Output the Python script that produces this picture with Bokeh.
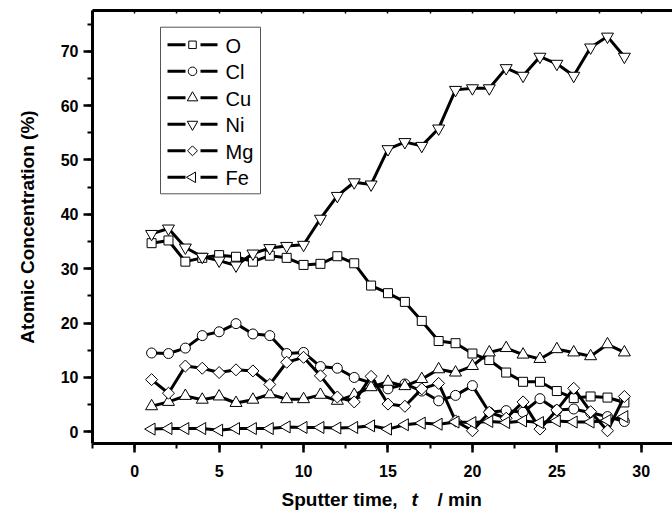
import numpy as np
from bokeh.plotting import figure
from bokeh.layouts import column
from bokeh.models import Range1d, LinearAxis, SingleIntervalTicker, FixedTicker, ColumnDataSource
from bokeh.core.properties import value
from bokeh.embed import file_html
from bokeh.resources import INLINE

t = list(range(1, 30))
O = [34.7, 35.2, 31.3, 32.0, 32.5, 32.2, 31.3, 32.4, 32.0, 30.7, 30.9, 32.3, 31.0, 26.9, 25.5,
     23.9, 20.4, 16.7, 16.3, 14.4, 13.2, 10.9, 9.2, 9.2, 7.5, 6.2, 6.5, 6.3, 5.4]
Cl = [14.5, 14.4, 15.4, 17.7, 18.4, 19.9, 18.0, 17.7, 14.4, 14.6, 12.0, 11.7, 10.0, 9.0, 7.9,
      8.8, 7.5, 5.7, 6.7, 8.5, 3.6, 3.9, 3.6, 6.1, 4.0, 4.2, 3.5, 2.8, 1.9]
Cu = [4.7, 5.5, 6.6, 5.9, 6.5, 5.3, 5.9, 6.9, 6.0, 6.0, 6.8, 5.7, 6.8, 8.2, 9.2,
      8.4, 9.7, 11.5, 10.9, 12.1, 14.6, 15.4, 14.2, 13.4, 15.2, 14.6, 13.9, 16.1, 14.6]
Ni = [36.4, 37.4, 33.9, 32.2, 31.5, 30.6, 32.8, 33.8, 34.2, 34.4, 39.2, 43.4, 45.9, 45.5, 52.0,
      53.3, 52.6, 55.8, 62.9, 63.2, 63.2, 66.9, 65.5, 69.0, 67.7, 65.5, 70.7, 72.7, 69.0]
Mg = [9.6, 7.1, 12.1, 11.7, 10.9, 11.4, 11.2, 8.7, 12.8, 13.7, 10.3, 6.4, 5.5, 10.2, 5.1,
      4.7, 7.9, 8.9, 2.0, 0.2, 3.6, 2.5, 5.5, 0.5, 4.0, 8.0, 3.7, 0.2, 6.5]
Fe = [0.5, 0.6, 0.6, 0.6, 0.3, 0.6, 0.6, 0.6, 0.9, 0.8, 0.8, 0.7, 0.8, 1.1, 0.5,
      1.3, 1.6, 1.4, 1.8, 1.7, 1.9, 1.7, 2.0, 1.7, 2.0, 1.8, 1.8, 2.1, 2.8]

series_names = ["O", "Cl", "Cu", "Ni", "Mg", "Fe"]
series_values = [O, Cl, Cu, Ni, Mg, Fe]
markers = ["square", "circle", "triangle", "inverted_triangle", "square", "triangle"]
sizes = [9, 10, 12, 12, 8.5, 12]
angles = [0, 0, 0, 0, np.pi / 4, np.pi / 2]

FONT = "Liberation Sans"
W, H_MAIN, H_TITLE = 672, 490, 33
LEFT, TOP, BOTTOM = 92, 10, 47
FRAME_W, FRAME_H = W - LEFT, H_MAIN - TOP - BOTTOM

p = figure(width=W, height=H_MAIN, output_backend="svg", toolbar_location=None,
           x_range=Range1d(-2.5, 31.85), y_range=Range1d(-2.15, 77.5),
           x_axis_type=None, y_axis_type=None,
           min_border_left=LEFT, min_border_right=0, min_border_top=TOP, min_border_bottom=BOTTOM)
p.outline_line_color = None
p.background_fill_color = "white"
p.border_fill_color = "white"
# pixel-like helper ranges for the legend box (layout only)
p.extra_x_ranges = {"px": Range1d(0, FRAME_W)}
p.extra_y_ranges = {"px": Range1d(FRAME_H, 0)}


def style_axis(ax):
    ax.axis_line_width = 3
    ax.axis_line_color = "black"
    ax.major_tick_line_width = 2.5
    ax.minor_tick_line_width = 2
    ax.major_tick_line_color = "black"
    ax.minor_tick_line_color = "black"
    ax.major_tick_in = 0
    ax.minor_tick_in = 0
    ax.major_tick_out = 9
    ax.minor_tick_out = 5
    ax.major_label_text_font = FONT
    ax.major_label_text_font_style = "bold"
    ax.major_label_text_font_size = "16px"
    ax.major_label_text_color = "black"


xaxis = LinearAxis(ticker=SingleIntervalTicker(interval=5, num_minor_ticks=2))
style_axis(xaxis)
xaxis.major_label_standoff = 12
p.add_layout(xaxis, "below")

yaxis = LinearAxis(ticker=SingleIntervalTicker(interval=10, num_minor_ticks=2),
                   axis_label="Atomic Concentration (%)")
style_axis(yaxis)
yaxis.major_label_standoff = 5
yaxis.axis_label_text_font = FONT
yaxis.axis_label_text_font_style = "bold"
yaxis.axis_label_text_font_size = "19px"
yaxis.axis_label_text_color = "black"
yaxis.axis_label_standoff = 20
p.add_layout(yaxis, "left")

# top frame edge: only small tick marks, no labels
top_ticks = [2.5 * k for k in range(-1, 13)]
top = LinearAxis(ticker=FixedTicker(ticks=[], minor_ticks=top_ticks))
top.axis_line_width = 3
top.axis_line_color = "black"
top.minor_tick_in = 3
top.minor_tick_out = 0
top.minor_tick_line_width = 1.5
top.minor_tick_line_color = "black"
top.major_tick_in = 0
top.major_tick_out = 0
top.major_label_standoff = 0
p.add_layout(top, "above")

for name, vals, mk, sz, ang in zip(series_names, series_values, markers, sizes, angles):
    src = ColumnDataSource(dict(t=t, v=vals))
    p.line("t", "v", source=src, line_color="black", line_width=3)
    p.scatter("t", "v", source=src, marker=mk, size=sz, angle=ang,
              fill_color="white", line_color="black", line_width=1)

# legend (box, line pieces with a gap, marker, label)
p.quad(left=68, right=168, top=16.7, bottom=183.3, x_range_name="px", y_range_name="px",
       fill_color="white", line_color="#555555", line_width=1)
for i, (name, mk, sz, ang) in enumerate(zip(series_names, markers, sizes, angles)):
    row_y = 34.3 + 26.5 * i
    p.segment(x0=[75, 108], x1=[93, 125], y0=[row_y, row_y], y1=[row_y, row_y],
              x_range_name="px", y_range_name="px", line_color="black", line_width=3)
    p.scatter(x=[100], y=[row_y], marker=mk, size=sz - 1.5, angle=ang,
              x_range_name="px", y_range_name="px",
              fill_color="white", line_color="black", line_width=1)
    p.text(x=[133], y=[row_y + 1], text=[name], x_range_name="px", y_range_name="px",
           text_font=value(FONT), text_font_size="20px", text_baseline="middle",
           text_align="left", text_color="black")

# x-axis title strip (with italic t); its frame is aligned with the main frame
pt = figure(width=W, height=H_TITLE, output_backend="svg", toolbar_location=None,
            x_range=Range1d(LEFT, W), y_range=Range1d(H_TITLE, 0),
            x_axis_type=None, y_axis_type=None, min_border=0,
            min_border_left=LEFT, min_border_right=0)
pt.outline_line_color = None
pt.grid.visible = False
for txt, xs, style in [("Sputter time,", 281, "bold"), ("t", 411, "bold italic"),
                       ("/ min", 437, "bold")]:
    pt.text(x=[xs], y=[9], text=[txt], text_font=value(FONT), text_font_style=style,
            text_font_size="19px", text_baseline="middle", text_align="left",
            text_color="black")

layout = column(p, pt, spacing=0)
open("out.html", "w").write(file_html(layout, INLINE))
